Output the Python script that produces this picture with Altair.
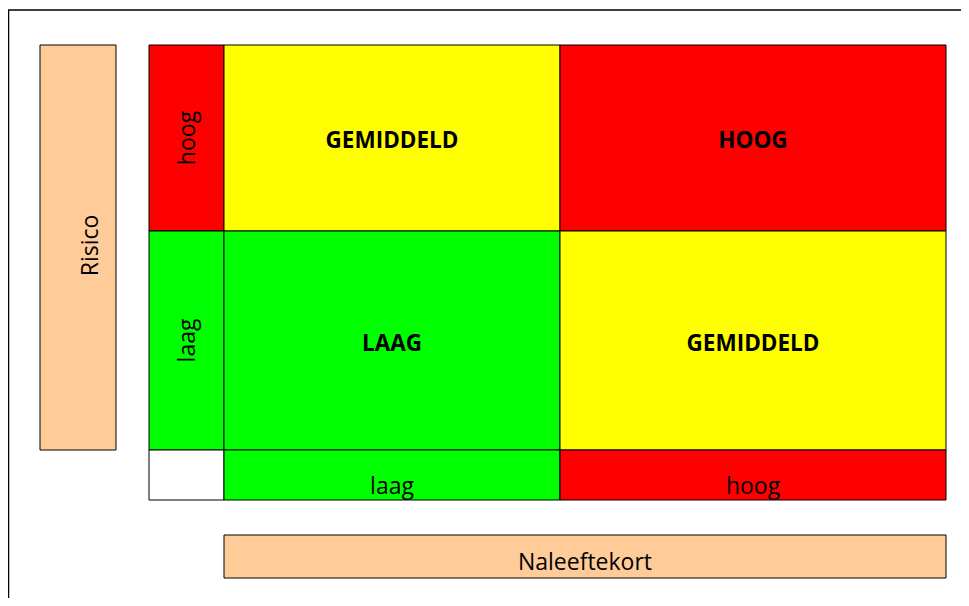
import altair as alt
import pandas as pd

# ---- data -------------------------------------------------------------
risk_levels = ["hoog", "laag"]             # rows, top to bottom (Risico)
shortfall_levels = ["laag", "hoog"]        # columns, left to right (Naleeftekort)
matrix_labels = [["GEMIDDELD", "HOOG"],
                 ["LAAG", "GEMIDDELD"]]
level_colors = {"LAAG": "#00FF00", "GEMIDDELD": "#FFFF00", "HOOG": "#FF0000"}
header_colors = {"laag": "#00FF00", "hoog": "#FF0000"}

# grid edges of the matrix (diagram units)
col_edges = [149, 224, 560, 946]
row_edges = [45, 231, 450, 500]
risico_box = [40, 116, 45, 450]
naleef_box = [224, 946, 535, 578]
axis_titles = ["Risico", "Naleeftekort"]

# ---- build tables --------------------------------------------------------
rects = []
for i, lvl in enumerate(risk_levels):
    rects.append(dict(x=col_edges[0], x2=col_edges[1], y=row_edges[i], y2=row_edges[i + 1],
                      fill=header_colors[lvl]))
for i in range(len(risk_levels)):
    for j in range(len(shortfall_levels)):
        rects.append(dict(x=col_edges[j + 1], x2=col_edges[j + 2], y=row_edges[i], y2=row_edges[i + 1],
                          fill=level_colors[matrix_labels[i][j]]))
rects.append(dict(x=col_edges[0], x2=col_edges[1], y=row_edges[2], y2=row_edges[3], fill="#FFFFFF"))
for j, lvl in enumerate(shortfall_levels):
    rects.append(dict(x=col_edges[j + 1], x2=col_edges[j + 2], y=row_edges[2], y2=row_edges[3],
                      fill=header_colors[lvl]))
rects.append(dict(x=risico_box[0], x2=risico_box[1], y=risico_box[2], y2=risico_box[3], fill="#FFCC99"))
rects.append(dict(x=naleef_box[0], x2=naleef_box[1], y=naleef_box[2], y2=naleef_box[3], fill="#FFCC99"))
rect_df = pd.DataFrame(rects)

big_df = pd.DataFrame([dict(x=(col_edges[j + 1] + col_edges[j + 2]) / 2,
                            y=(row_edges[i] + row_edges[i + 1]) / 2 + 3,
                            label=matrix_labels[i][j])
                       for i in range(len(risk_levels)) for j in range(len(shortfall_levels))])

row_text = pd.DataFrame([dict(x=(col_edges[0] + col_edges[1]) / 2 + 1,
                              y=(row_edges[i] + row_edges[i + 1]) / 2,
                              label=lvl) for i, lvl in enumerate(risk_levels)]
                        + [dict(x=(risico_box[0] + risico_box[1]) / 2 + 13,
                                y=(risico_box[2] + risico_box[3]) / 2 - 2,
                                label=axis_titles[0])])

col_text = pd.DataFrame([dict(x=(col_edges[j + 1] + col_edges[j + 2]) / 2,
                              y=row_edges[3] - 6,
                              label=lvl) for j, lvl in enumerate(shortfall_levels)]
                        + [dict(x=(naleef_box[0] + naleef_box[1]) / 2,
                                y=naleef_box[3] - 8,
                                label=axis_titles[1])])

frame_df = pd.DataFrame([dict(x=8.5, x2=1000, y=10, y2=700)])

# ---- scales -------------------------------------------------------------
W, H = 953, 590
xs = alt.Scale(domain=[8, 8 + W], nice=False, zero=False)
ys = alt.Scale(domain=[8, 8 + H], nice=False, zero=False, reverse=True)
X = lambda f: alt.X(f, type="quantitative", scale=xs, axis=None)
Y = lambda f: alt.Y(f, type="quantitative", scale=ys, axis=None)

FONT = "Open Sans"

frame = alt.Chart(frame_df).mark_rect(fill=None, stroke="#000000", strokeWidth=1.5).encode(
    x=X("x"), x2="x2", y=Y("y"), y2="y2")

cells = alt.Chart(rect_df).mark_rect(stroke="#000000", strokeWidth=1).encode(
    x=X("x"), x2="x2", y=Y("y"), y2="y2",
    fill=alt.Fill("fill:N", scale=None))

big = alt.Chart(big_df).mark_text(font=FONT, fontSize=22.5, fontWeight="bold", color="#000000",
                                  align="center", baseline="middle").encode(
    x=X("x"), y=Y("y"), text="label:N")

rows = alt.Chart(row_text).mark_text(font=FONT, fontSize=23, color="#000000", angle=270,
                                     align="center", baseline="middle").encode(
    x=X("x"), y=Y("y"), text="label:N")

cols = alt.Chart(col_text).mark_text(font=FONT, fontSize=23, color="#000000",
                                     align="center", baseline="alphabetic").encode(
    x=X("x"), y=Y("y"), text="label:N")

chart = alt.layer(frame, cells, big, rows, cols).properties(
    width=W, height=H, padding=0,
    autosize=alt.AutoSizeParams(type="none"),
).configure_view(stroke=None)

chart.save("out.html", embed_options={"renderer": "svg", "actions": False})
